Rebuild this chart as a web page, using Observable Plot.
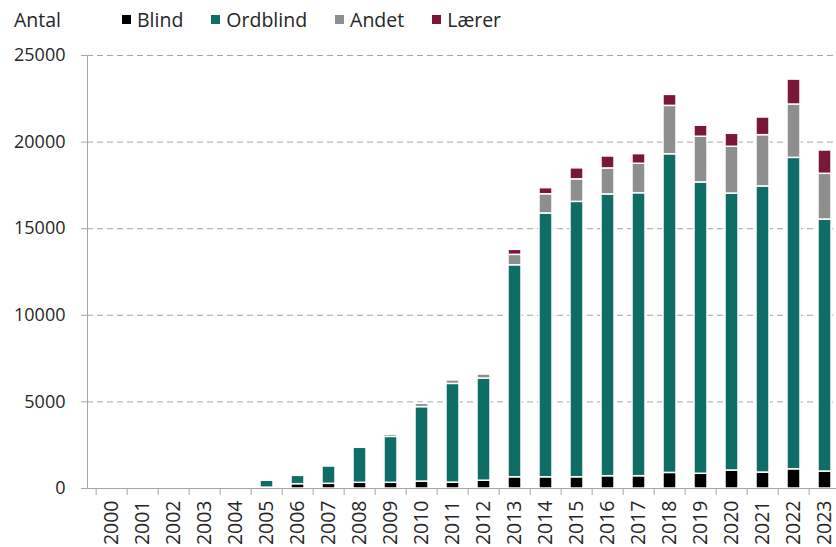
<!DOCTYPE html>
<html><head><meta charset="utf-8">
<script src="https://cdn.jsdelivr.net/npm/d3@7"></script>
<script src="https://cdn.jsdelivr.net/npm/@observablehq/plot@0.6"></script>
<style>
html,body{margin:0;padding:0;overflow:hidden;background:#fff;width:836px;height:547px}
#wrap{position:relative;width:836px;height:547px;overflow:hidden;font-family:"Open Sans",sans-serif;color:#262626}
#title{position:absolute;left:14px;top:6px;font-size:19.5px}
#legend{position:absolute;left:122px;top:6px;display:flex;align-items:center;font-size:19.5px}
#legend .item{display:flex;align-items:center;margin-right:28px}
#legend .sw{width:9px;height:9px;margin-right:6px}
#chart{position:absolute;left:0;top:0}
#chart svg{max-width:none !important}
</style>
</head><body>
<div id="wrap">
  <div id="chart"></div>
  <div id="title">Antal</div>
  <div id="legend"></div>
</div>
<script>
const years = ["2000","2001","2002","2003","2004","2005","2006","2007","2008","2009","2010","2011","2012","2013","2014","2015","2016","2017","2018","2019","2020","2021","2022","2023"];
const types = ["Blind","Ordblind","Andet","Lærer"];
const colors = ["#000000","#0e6e67","#8e8e8e","#7a1636"];
const blind    = [0,0,0,0,0,50,250,270,330,330,400,340,450,650,650,650,710,710,900,850,1040,920,1110,980];
const ordblind = [0,0,0,0,0,400,480,1000,2020,2650,4300,5700,5900,12240,15230,15900,16270,16340,18400,16820,15990,16520,17980,14550];
const andet    = [0,0,0,0,0,0,0,0,0,130,190,200,230,600,1110,1300,1500,1700,2790,2640,2700,2960,3080,2640];
const laerer   = [0,0,0,0,0,0,0,0,0,0,0,0,0,290,350,635,690,555,636,636,750,1020,1440,1345];
const yTicks = [0,5000,10000,15000,20000,25000];

const series = [blind, ordblind, andet, laerer];
const data = [];
years.forEach((yr, i) => {
  types.forEach((t, k) => {
    if (series[k][i] > 0) data.push({year: yr, type: t, value: series[k][i]});
  });
});

const W = 858, H = 547, ML = 87, MR = 10, MT = 55, MB = 59;
const plotH = H - MT - MB;
const step = (W - ML - MR) / years.length;
const grid = "#a6a6a6";

const chart = Plot.plot({
  width: W, height: H,
  marginLeft: ML, marginRight: MR, marginTop: MT, marginBottom: MB,
  style: {fontFamily: "'Open Sans', sans-serif", fontSize: "18px", color: "#262626", background: "white", maxWidth: "none"},
  x: {domain: years, padding: 0, label: null},
  y: {domain: [0, 25000], label: null},
  color: {domain: types, range: colors},
  marks: [
    Plot.ruleY(yTicks.filter(d => d > 0), {stroke: grid, strokeDasharray: "6,4"}),
    Plot.barY(data, {x: "year", y: "value", fill: "type", stroke: "white", strokeWidth: 1.5, insetLeft: 9, insetRight: 9}),
    Plot.ruleX(years, {x: d => d, dx: -step / 2, insetTop: plotH, insetBottom: -7, stroke: grid}),
    Plot.ruleY([0], {stroke: grid}),
    Plot.frame({anchor: "left", stroke: grid}),
    Plot.axisY({ticks: yTicks, tickSize: 6, tickPadding: 16, stroke: grid, tickFormat: d => String(d), label: null}),
    Plot.axisX({tickSize: 0, tickRotate: -90, tickPadding: 12, fontSize: 19.5, label: null})
  ]
});
document.getElementById("chart").appendChild(chart);

const lg = document.getElementById("legend");
types.forEach((t, k) => {
  const it = document.createElement("div");
  it.className = "item";
  const sw = document.createElement("div");
  sw.className = "sw";
  sw.style.background = colors[k];
  const lb = document.createElement("span");
  lb.textContent = t;
  it.appendChild(sw); it.appendChild(lb);
  lg.appendChild(it);
});
</script>
</body></html>
